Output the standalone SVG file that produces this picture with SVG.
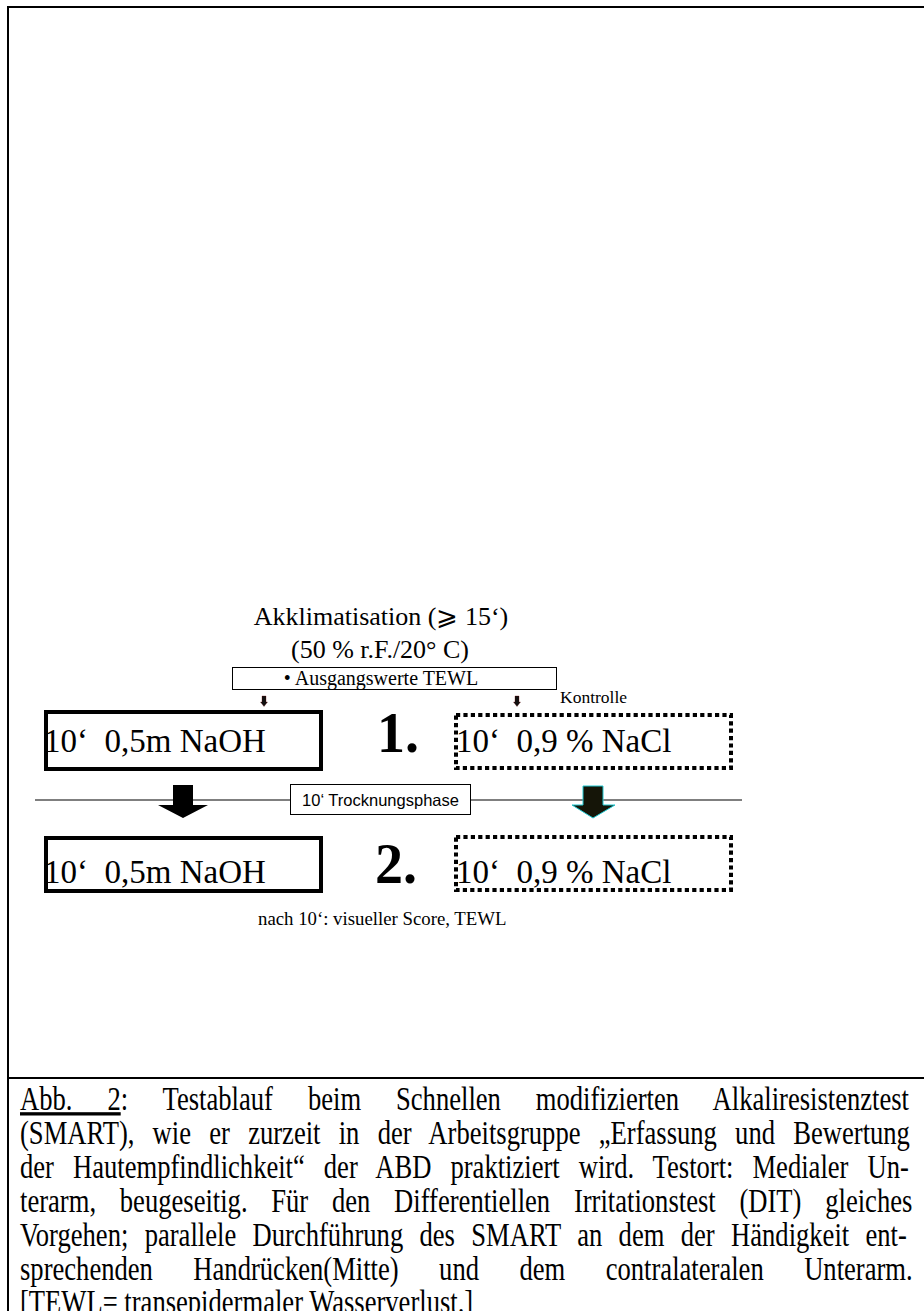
<svg xmlns="http://www.w3.org/2000/svg" width="924" height="1311" viewBox="0 0 924 1311">
<style>
.serif{font-family:"Liberation Serif","DejaVu Serif",serif;fill:#000}
.sans{font-family:"Liberation Sans",Arial,sans-serif;fill:#000}
.solid{fill:none;stroke:#000;stroke-width:4}
.dotted{fill:none;stroke:#000;stroke-width:4;stroke-dasharray:4.2 3.2}
.cap{font-family:"Liberation Serif",serif;font-size:28px;fill:#000}
</style>
<rect width="924" height="1311" fill="#fff"/>
<g id="frame" stroke="#000" stroke-width="2" fill="none">
<line x1="8" y1="7" x2="924" y2="7"/>
<line x1="8" y1="6" x2="8" y2="1311"/>
<line x1="8" y1="1078" x2="924" y2="1078"/>
</g>
<g id="akklimatisation">
<text class="serif" x="381" y="625" font-size="26" text-anchor="middle">Akklimatisation (⩾ 15‘)</text>
<text class="serif" x="380" y="658" font-size="26" text-anchor="middle">(50 % r.F./20° C)</text>
</g>
<g id="ausgangswerte">
<rect x="232.5" y="667.5" width="324" height="22" fill="#fff" stroke="#000" stroke-width="1"/>
<text class="serif" x="381" y="685" font-size="20" text-anchor="middle">• Ausgangswerte TEWL</text>
</g>
<g id="kontrolle-label">
<text class="serif" x="560" y="703" font-size="17.5">Kontrolle</text>
</g>
<g id="naoh-1">
<rect class="solid" x="46" y="712" width="275" height="57"/>
<text class="serif" x="44" y="752" font-size="33" xml:space="preserve">10‘  0,5m NaOH</text>
</g>
<g id="step-1">
<text class="serif" x="377" y="752" font-size="56" font-weight="bold">1.</text>
</g>
<g id="nacl-1">
<rect class="dotted" x="456" y="715" width="275" height="53"/>
<text class="serif" x="456" y="752" font-size="33" xml:space="preserve">10‘  0,9 % NaCl</text>
</g>
<g id="naoh-2">
<rect class="solid" x="46" y="838" width="275" height="53"/>
<text class="serif" x="44" y="883" font-size="33" xml:space="preserve">10‘  0,5m NaOH</text>
</g>
<g id="step-2">
<text class="serif" x="375" y="883" font-size="56" font-weight="bold">2.</text>
</g>
<g id="nacl-2">
<rect class="dotted" x="456" y="837" width="275" height="53"/>
<text class="serif" x="456" y="883" font-size="33" xml:space="preserve">10‘  0,9 % NaCl</text>
</g>
<g id="connectors">
<line x1="35" y1="800" x2="742" y2="800" stroke="#000" stroke-width="1.2"/>
<polygon points="262,696 266,696 266,702 267.5,702 264,706.5 260.5,702 262,702" fill="#111" stroke="#600" stroke-width="0.3"/>
<polygon points="515,696 519,696 519,702 520.5,702 517,706.5 513.5,702 515,702" fill="#111" stroke="#600" stroke-width="0.3"/>
<polygon points="173,785 193,785 193,805 208,805 183,818 158,805 173,805" fill="#000"/>
<polygon points="583,786 603,786 603,805 615,805 593,818 572,805 583,805" fill="#151508" stroke="#20c8d0" stroke-width="1"/>
</g>
<g id="trocknungsphase">
<rect x="290.5" y="784.5" width="180" height="30" fill="#fff" stroke="#000" stroke-width="1"/>
<text class="sans" x="380.5" y="806" font-size="16.5" text-anchor="middle">10‘ Trocknungsphase</text>
</g>
<g id="nach-label">
<text class="serif" x="258" y="925" font-size="18.8">nach 10‘: visueller Score, TEWL</text>
</g>
<g id="caption" class="cap">
<text transform="translate(20,1110) scale(0.95,1.18)" word-spacing="29.8"><tspan text-decoration="underline">Abb. 2</tspan>: Testablauf beim Schnellen modifizierten Alkaliresistenztest</text>
<text transform="translate(20,1144) scale(0.95,1.18)" word-spacing="12.2">(SMART), wie er zurzeit in der Arbeitsgruppe „Erfassung und Bewertung</text>
<text transform="translate(20,1178) scale(0.95,1.18)" word-spacing="13">der Hautempfindlichkeit“ der ABD praktiziert wird. Testort: Medialer Un-</text>
<text transform="translate(20,1212) scale(0.95,1.18)" word-spacing="18">terarm, beugeseitig. Für den Differentiellen Irritationstest (DIT) gleiches</text>
<text transform="translate(20,1246) scale(0.95,1.18)" word-spacing="10.2">Vorgehen; parallele Durchführung des SMART an dem der Händigkeit ent-</text>
<text transform="translate(20,1280) scale(0.95,1.18)" word-spacing="35.6">sprechenden Handrücken(Mitte) und dem contralateralen Unterarm.</text>
<text transform="translate(20,1313) scale(0.95,1.18)">[TEWL= transepidermaler Wasserverlust.]</text>
</g>
</svg>
